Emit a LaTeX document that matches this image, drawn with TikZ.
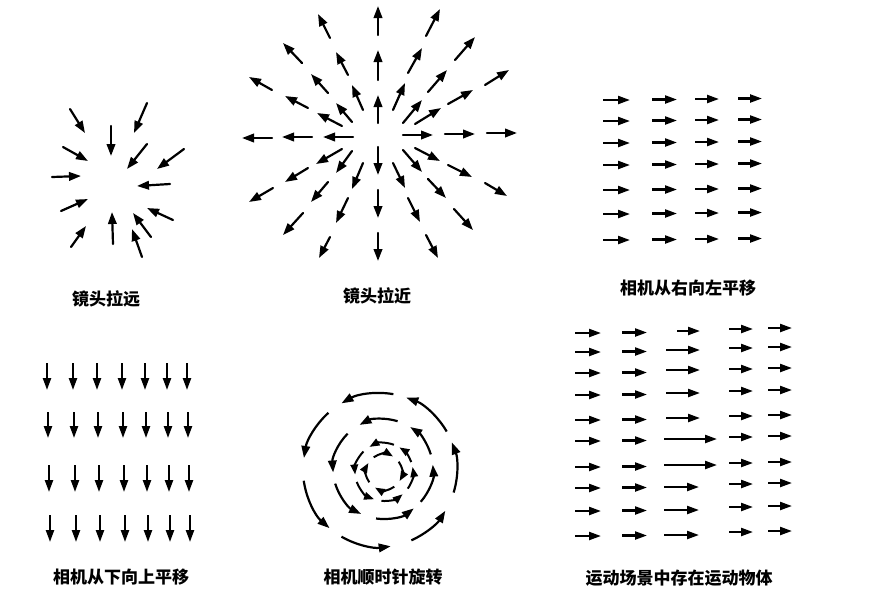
\documentclass[tikz,border=0pt]{standalone}
\usepackage{fontspec}
\newfontfamily\cjk{Noto Sans CJK SC}
\usetikzlibrary{arrows.meta}
\tikzset{
  arr/.style={line width=2.2pt, line cap=round, -{Triangle[length=12pt,width=8.5pt]}},
  sarr/.style={line width=2.2pt, -{Triangle[length=12pt,width=8pt]}},
  rarr/.style={line width=2.2pt, -{Triangle[length=12pt,width=8.5pt]}},
  iarr/.style={line width=2pt, -{Triangle[length=10pt,width=7.5pt]}},
  lab/.style={font=\cjk\bfseries\fontsize{17}{19}\selectfont, inner sep=0pt}
}
\begin{document}
\begin{tikzpicture}[x=1pt,y=-1pt]
\useasboundingbox (0,0) rectangle (870,598);
\fill[white] (0,0) rectangle (870,598);

% Panel 1: zoom out (converging)
\foreach \ax/\ay/\bx/\by in {
  70/109/85/133, 147/103/134/133, 111/126/111/156, 63/147/88/161,
  147/144/127/169, 184/149/157/169, 52/177/81/176, 170/184/137/186,
  61/211/88/199, 173/220/147/208, 113/244/112/212, 151/237/133/213,
  71/247/86/226, 142/257/132/229}
  \draw[arr] (\ax,\ay) -- (\bx,\by);

% Panel 2: zoom in (diverging)
\foreach \ax/\ay/\bx/\by in {
  378/35/378/6, 378/80/378/50, 378/123/378/95,
  378/147/378/175, 378/190/378/218, 378/233/378/261,
  353/137/323/137, 312/137/282/137, 272/138/242/138,
  403/135/433/135, 445/134/475/134, 487/133/517/133,
  330/38/318/14, 302/63/283/43, 272/90/249/77,
  348/75/336/52, 328/93/311/74, 308/108/285/96,
  363/110/352/85, 352/122/336/103, 342/126/317/113,
  426/36/440/9, 455/60/475/37, 485/85/509/70,
  408/73/422/48, 428/92/447/70, 448/104/473/90,
  393/110/405/83, 403/123/422/100, 415/124/441/108,
  342/149/316/164, 352/151/336/173, 363/163/352/189,
  308/168/285/182, 328/182/311/202, 348/198/336/223,
  273/188/249/202, 303/213/283/235, 330/237/319/258,
  403/150/422/172, 415/148/440/161, 393/163/405/188,
  428/179/446/198, 448/165/472/177, 408/198/420/222,
  485/183/507/196, 454/209/473/230, 426/235/438/258}
  \draw[arr] (\ax,\ay) -- (\bx,\by);

% Panel 3: pan right to left
\foreach \y in {100,121,143,165,190,214,240}
  \foreach \xa/\xb/\dy in {603/630/0, 652/677/-0.5, 695/719/-1, 738/762/-1.5}
    \draw[sarr] (\xa,\y+\dy) -- (\xb,\y+\dy);

% Panel 4: pan bottom to top
\foreach \ya/\yb/\dx in {363/390/0, 412/438/1, 465/492/2, 515/542/3}
  \foreach \x in {47,73,97,122,145,167,187}
    \draw[sarr] (\x+\dx,\ya) -- (\x+\dx,\yb);

% Panel 5: rotation
\begin{scope}[shift={(380,470)}, yscale=-1]
  \foreach \a/\b in {80/120, 30/70, -17/21, -66/-32, -120/-82, -172/-131, 132/171}
    \draw[rarr] (\a:77) arc (\a:\b:77);
\end{scope}
\begin{scope}[shift={(383,469)}, yscale=-1]
  \foreach \a/\b in {73/118, 135/184, 197/244, 262/308, 319/365, 17/57}
    \draw[rarr] (\a:50) arc (\a:\b:50);
\end{scope}
\begin{scope}[shift={(384,472)}, yscale=-1]
  \foreach \a/\b in {70/120, 135/185, 200/250, 265/310, 325/370, 20/58}
    \draw[iarr] (\a:29) arc (\a:\b:29);
  \foreach \a/\b in {125/60, 35/-30, -55/-120, -145/-210}
    \draw[iarr] (\a:18) arc (\a:\b:18);
\end{scope}

% Panel 6: moving object
\foreach \y [count=\i] in {333,352,373,395,420,441,467,488,511,536} {
  \draw[sarr] (575,\y) -- (601,\y);
  \draw[sarr] (622,\y-0.5) -- (647,\y-0.5);
  \draw[sarr] (729,\y-4) -- (753,\y-4);
  \draw[sarr] (768,\y-5) -- (792,\y-5);
}
\draw[sarr] (677,331) -- (700,331);
\foreach \y in {350,370,393,418}
  \draw[sarr] (666,\y) -- (700,\y);
\foreach \y in {439,465}
  \draw[sarr] (664,\y) -- (717,\y);
\foreach \y in {487,510,535}
  \draw[sarr] (664,\y) -- (699,\y);

% Labels
\node[lab] (l1) at (106,299) {镜头拉远};
\node[lab] (l2) at (377,296) {镜头拉近};
\node[lab] (l3) at (688,288) {相机从右向左平移};
\node[lab] (l4) at (121,577) {相机从下向上平移};
\node[lab] (l5) at (383,577) {相机顺时针旋转};
\node[lab] (l6) at (679,578) {运动场景中存在运动物体};
\end{tikzpicture}
\end{document}
